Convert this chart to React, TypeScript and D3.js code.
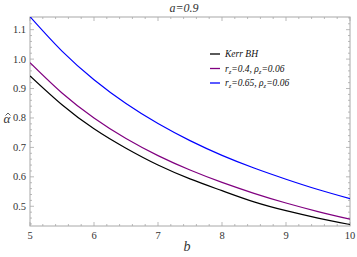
import * as d3 from 'd3';
import React, { useRef, useEffect } from 'react';

const bValues = [5, 5.5, 6, 6.5, 7, 7.5, 8, 8.5, 9, 9.5, 10]
const kerrValues = [0.943, 0.845, 0.763, 0.697, 0.640, 0.593, 0.553, 0.515, 0.485, 0.460, 0.438]
const rz04Values = [0.988, 0.885, 0.800, 0.730, 0.672, 0.623, 0.581, 0.544, 0.511, 0.482, 0.456]
const rz065Values = [1.144, 1.027, 0.930, 0.849, 0.781, 0.723, 0.673, 0.630, 0.592, 0.557, 0.526]

const xTicks = [5, 6, 7, 8, 9, 10]
const yTicks = [0.5, 0.6, 0.7, 0.8, 0.9, 1.0, 1.1]

const series = [
    { name: 'Kerr BH', values: kerrValues, color: '#000000' },
    { name: 'rz04', values: rz04Values, color: '#800080' },
    { name: 'rz065', values: rz065Values, color: '#0000ff' },
]

const App = () => {
    const ref = useRef(null)

    const W = 357
    const H = 257
    const margin = { top: 17, right: 7, bottom: 31, left: 30 }
    const width = W - margin.left - margin.right
    const height = H - margin.top - margin.bottom

    useEffect(() => {
        document.body.style.margin = '0'
        d3.select(ref.current).selectAll('svg').remove()

        const svg = d3.select(ref.current)
            .append('svg')
            .attr('width', W)
            .attr('height', H)
            .style('display', 'block')

        const g = svg.append('g')
            .attr('transform', 'translate(' + margin.left + ',' + margin.top + ')')

        const x = d3.scaleLinear().domain([5, 10]).range([0, width])
        const y = d3.scaleLinear().domain([0.433, 1.143]).range([height, 0])

        g.append('clipPath').attr('id', 'clip')
            .append('rect').attr('width', width).attr('height', height)

        const frameColor = '#a8a8a8'
        const tickColor = '#8c8c8c'

        // minor + major ticks on all four sides, pointing inward
        const xMinor = d3.range(5, 10.001, 0.2)
        const yMinor = d3.range(0.44, 1.143, 0.02)
        const ticks = g.append('g').attr('stroke', tickColor).attr('stroke-width', 0.6)
        xMinor.forEach(v => {
            const major = xTicks.some(t => Math.abs(t - v) < 1e-6)
            const len = major ? 4 : 2
            ticks.append('line').attr('x1', x(v)).attr('x2', x(v)).attr('y1', height).attr('y2', height - len)
            ticks.append('line').attr('x1', x(v)).attr('x2', x(v)).attr('y1', 0).attr('y2', len)
        })
        yMinor.forEach(v => {
            const major = yTicks.some(t => Math.abs(t - v) < 1e-6)
            const len = major ? 4 : 2
            ticks.append('line').attr('x1', 0).attr('x2', len).attr('y1', y(v)).attr('y2', y(v))
            ticks.append('line').attr('x1', width).attr('x2', width - len).attr('y1', y(v)).attr('y2', y(v))
        })

        g.append('rect')
            .attr('x', 0)
            .attr('y', 0)
            .attr('width', width)
            .attr('height', height)
            .attr('fill', 'none')
            .attr('stroke', frameColor)
            .attr('stroke-width', 1)

        const labelFont = '"Liberation Serif", "DejaVu Serif", serif'

        g.append('g').selectAll('text')
            .data(xTicks)
            .join('text')
            .attr('x', d => x(d))
            .attr('y', height + 13)
            .attr('text-anchor', 'middle')
            .style('font-family', labelFont)
            .style('font-size', '10.5px')
            .attr('fill', '#333')
            .text(d => d)

        g.append('g').selectAll('text')
            .data(yTicks)
            .join('text')
            .attr('x', -4)
            .attr('y', d => y(d) + 3.5)
            .attr('text-anchor', 'end')
            .style('font-family', labelFont)
            .style('font-size', '10.5px')
            .attr('fill', '#333')
            .text(d => d.toFixed(1))

        const line = d3.line()
            .x((d, i) => x(bValues[i]))
            .y(d => y(d))
            .curve(d3.curveNatural)

        g.append('g').attr('clip-path', 'url(#clip)')
            .selectAll('path')
            .data(series)
            .join('path')
            .attr('fill', 'none')
            .attr('stroke', d => d.color)
            .attr('stroke-width', 1.2)
            .attr('d', d => line(d.values))

        // title and axis labels
        svg.append('text')
            .attr('x', 184)
            .attr('y', 12)
            .attr('text-anchor', 'middle')
            .style('font-family', labelFont)
            .style('font-style', 'italic')
            .style('font-size', '12px')
            .attr('fill', '#333')
            .text('a=0.9')

        svg.append('text')
            .attr('x', 187)
            .attr('y', 251)
            .attr('text-anchor', 'middle')
            .style('font-family', labelFont)
            .style('font-style', 'italic')
            .style('font-size', '14px')
            .attr('fill', '#333')
            .text('b')

        svg.append('text')
            .attr('x', 7)
            .attr('y', 123)
            .attr('text-anchor', 'middle')
            .style('font-family', labelFont)
            .style('font-style', 'italic')
            .style('font-size', '13px')
            .attr('fill', '#333')
            .text('\u03b1')
        // hat over alpha
        svg.append('path')
            .attr('d', 'M5.5,115.5 L8,113 L10.5,115.5')
            .attr('fill', 'none')
            .attr('stroke', '#333')
            .attr('stroke-width', 0.8)

        // legend
        const legendRows = [54, 68.5, 83]
        const legend = svg.append('g')
            .style('font-family', labelFont)
            .style('font-style', 'italic')
            .style('font-size', '9.5px')
            .attr('fill', '#111')
        series.forEach((s, i) => {
            legend.append('line')
                .attr('x1', 210).attr('x2', 220)
                .attr('y1', legendRows[i]).attr('y2', legendRows[i])
                .attr('stroke', s.color).attr('stroke-width', 1.3)
            const t = legend.append('text').attr('x', 225).attr('y', legendRows[i] + 3.3)
            if (i === 0) {
                t.text('Kerr BH')
            } else {
                const rz = i === 1 ? '0.4, ' : '0.65, '
                t.append('tspan').text('r')
                t.append('tspan').attr('font-size', '6.5px').attr('dy', 2).text('z')
                t.append('tspan').attr('dy', -2).text('=' + rz + ' \u03c1')
                t.append('tspan').attr('font-size', '6.5px').attr('dy', 2).text('z')
                t.append('tspan').attr('dy', -2).text('=0.06')
            }
        })
    }, [])

    return <div ref={ref} />
}

export default App
